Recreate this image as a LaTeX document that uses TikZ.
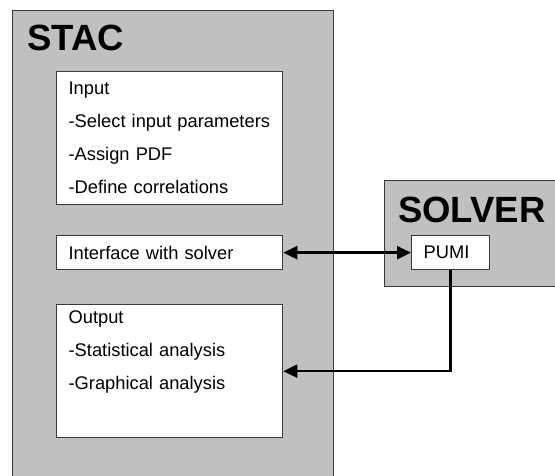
\documentclass[tikz,border=0pt]{standalone}
\usepackage{fontspec}
\setmainfont{Liberation Sans}
\usepackage{tikz}
\usetikzlibrary{arrows.meta, positioning}

\definecolor{panelgray}{HTML}{C0C0C0}
\definecolor{framegray}{HTML}{3A3A3A}

\begin{document}
\begin{tikzpicture}[
    x=1pt, y=-1pt,
    >={Triangle[length=14pt, width=13pt]},
    panel/.style={draw=framegray, line width=1.3pt, fill=panelgray, anchor=north west, inner sep=0pt},
    title/.style={anchor=base west, inner sep=0pt, font=\fontsize{36.5}{40}\selectfont\bfseries},
    item/.style={draw=framegray, line width=1.3pt, fill=white, anchor=north west, align=left,
        inner xsep=12pt, inner ysep=0pt, font=\fontsize{18.3}{33}\selectfont},
    link/.style={line width=2.4pt, black}
]
    \useasboundingbox (0,0) rectangle (555,475);
    \clip (0,0) rectangle (555,475);

    % Nodes
    \node (stac) [panel, minimum width=321pt, minimum height=490pt] at (12,10) {};
    \node (stactitle) [title] at (27,50) {STAC};
    \node (input) [item, text width=202pt, minimum height=133pt] at (56,71)
        {Input\\-Select input parameters\\-Assign PDF\\-Define correlations};
    \node (iface) [item, text width=202pt, minimum height=34pt] at (56,235) {Interface with solver};
    \node (output) [item, text width=202pt, minimum height=133pt] at (56,304)
        {Output\\-Statistical analysis\\-Graphical analysis\\\strut};

    \node (solver) [panel, minimum width=200pt, minimum height=106pt] at (384,180) {};
    \node (solvertitle) [title] at (398,222) {SOLVER};
    \node (pumi) [item, text width=54pt, minimum height=34pt] at (411,235) {PUMI};

    % Paths
    \draw [link, <->] (iface) -- (pumi);
    \draw [link, ->] (pumi.south) |- (output.east);
\end{tikzpicture}
\end{document}
